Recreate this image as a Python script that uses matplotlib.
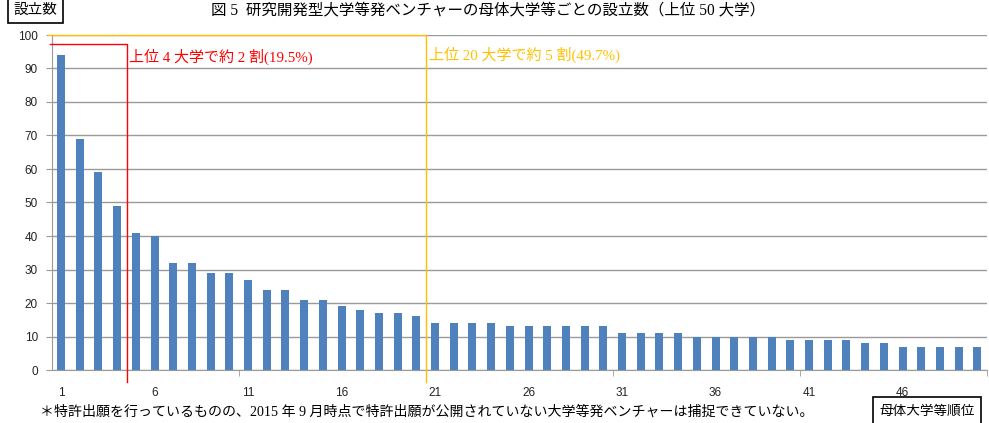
import matplotlib
matplotlib.use("Agg")
import matplotlib.pyplot as plt
from matplotlib.lines import Line2D

ranks = list(range(1, 51))
counts = [94, 69, 59, 49, 41, 40, 32, 32, 29, 29,
          27, 24, 24, 21, 21, 19, 18, 17, 17, 16,
          14, 14, 14, 14, 13, 13, 13, 13, 13, 13,
          11, 11, 11, 11, 10, 10, 10, 10, 10, 9,
          9, 9, 9, 8, 8, 7, 7, 7, 7, 7]
xtick_labels = [1, 6, 11, 16, 21, 26, 31, 36, 41, 46]
yticks = list(range(0, 101, 10))

title = "図 5  研究開発型大学等発ベンチャーの母体大学等ごとの設立数（上位 50 大学）"
red_note = "上位 4 大学で約 2 割(19.5%)"
gold_note = "上位 20 大学で約 5 割(49.7%)"
footnote = "＊特許出願を行っているものの、2015 年 9 月時点で特許出願が公開されていない大学等発ベンチャーは捕捉できていない。"
ylab = "設立数"
xlab = "母体大学等順位"

MIX = ['Liberation Serif', 'Noto Sans CJK JP', 'DejaVu Sans']
GOTH = ['Noto Sans CJK JP', 'DejaVu Sans']

W, H = 989, 423
fig = plt.figure(figsize=(W / 100, H / 100), dpi=100)
ax = fig.add_axes([51.7 / W, 1 - 370 / H, 935 / W, 335 / H])

bar_color = '#4F81BD'
grid_c = '#9A9A9A'
ax.bar(ranks, counts, width=0.43, color=bar_color, zorder=3)
ax.set_xlim(0.5, 50.5)
ax.set_ylim(0, 100)
ax.set_yticks(yticks)
ax.set_yticklabels([str(v) for v in yticks], fontsize=8.5, family=['Liberation Sans'], color='#222222')
ax.set_xticks(xtick_labels)
ax.set_xticklabels([str(v) for v in xtick_labels], fontsize=8.5, family=['Liberation Sans'], color='#222222')
ax.tick_params(axis='x', length=0, pad=12)
ax.set_xticks([10.5, 20.5, 30.5, 40.5, 50.5], minor=True)
ax.tick_params(axis='x', which='minor', length=4, color=grid_c, direction='out')
ax.tick_params(axis='y', length=4, color=grid_c, pad=6)
ax.grid(axis='y', color=grid_c, linewidth=1.0, zorder=0)
for s in ['top', 'right']:
    ax.spines[s].set_visible(False)
ax.spines['left'].set_color(grid_c)
ax.spines['bottom'].set_color(grid_c)

# highlight frames (top edge + right edge only, as in the original)
red = '#FF0000'
gold = '#FFC000'
ax.add_line(Line2D([0.4, 4.53, 4.53], [97.3, 97.3, -3.7], color=red, linewidth=1.0,
                   clip_on=False, zorder=4))
ax.add_line(Line2D([0.3, 20.52, 20.52], [100, 100, -3.7], color=gold, linewidth=1.0,
                   clip_on=False, zorder=4))
ax.text(4.62, 93.6, red_note, color=red, fontsize=10.8, family=MIX, va='center', ha='left')
ax.text(20.7, 94.2, gold_note, color=gold, fontsize=10.8, family=MIX, va='center', ha='left')

fig.text(488 / W, 1 - 10 / H, title, fontsize=11.2, family=MIX, ha='center', va='center')
fig.text(35.5 / W, 1 - 10 / H, ylab, fontsize=10.5, family=GOTH, ha='center', va='center',
         bbox=dict(boxstyle='square,pad=0.38', facecolor='white', edgecolor='black', linewidth=1.2))
fig.text(40 / W, 1 - 412 / H, footnote, fontsize=10.07, family=MIX, ha='left', va='center')
fig.text(927 / W, 1 - 411 / H, xlab, fontsize=9.8, family=GOTH, ha='center', va='center',
         bbox=dict(boxstyle='square,pad=0.5', facecolor='white', edgecolor='black', linewidth=1.2))

fig.savefig('out.png', dpi=100)
